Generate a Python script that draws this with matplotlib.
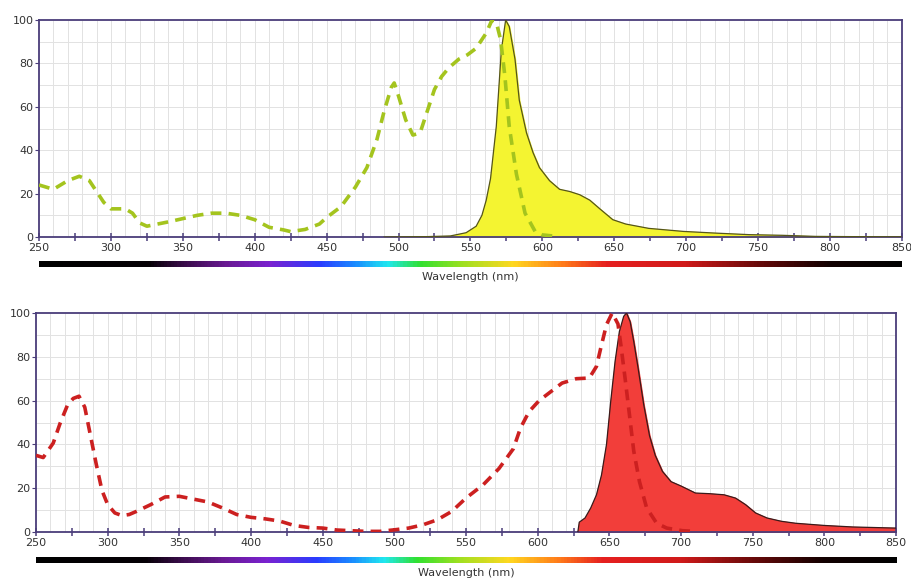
import matplotlib.pyplot as plt
import numpy as np
from matplotlib.colors import LinearSegmentedColormap

# top panel: excitation (dashed) and emission (filled)
top_ex_nm = [250, 260, 270, 278, 285, 290, 295, 300, 310, 315, 320, 325, 340, 350,
             360, 370, 380, 390, 400, 410, 420, 425, 435, 445, 450, 460, 470, 478,
             485, 490, 495, 497, 500, 505, 510, 515, 520, 525, 530, 535, 542, 548,
             554, 561, 565, 568, 571, 574, 577, 582, 588, 595, 600, 610]
top_ex_val = [24, 22, 26, 28, 26, 21, 16, 13, 13, 11, 6.5, 5, 7, 8.5,
              10, 11, 11, 10, 8, 4.5, 3.3, 2.5, 3.5, 6, 9, 14, 23, 32,
              45, 58, 69, 71, 65, 54, 47, 48, 58, 68, 74, 78, 82, 84,
              87, 94, 100, 99, 91, 74, 51, 29, 11, 2.6, 1, 0.3]

top_em_nm = [490, 520, 536, 547, 554, 558, 561, 564, 568, 571.5, 574.5, 577, 581, 584,
             589, 593.5, 598, 605, 612, 619, 626, 633, 640, 649, 658, 674, 698,
             721, 744, 767, 790, 813, 850]
top_em_val = [0, 0.2, 0.5, 2, 5, 10, 17, 27, 51, 86, 100, 97, 82, 63,
              48, 39, 32, 26, 22, 21, 19.5, 17, 13, 8, 6, 4, 2.6,
              1.8, 1.1, 0.8, 0.3, 0.2, 0.1]

# bottom panel
bot_ex_nm = [250, 255, 262, 267, 272, 276, 280, 284, 288, 292, 296, 300, 305, 310,
             315, 320, 330, 340, 350, 360, 370, 380, 390, 400, 410, 420, 430, 440,
             450, 460, 470, 480, 490, 500, 510, 520, 530, 540, 550, 562, 573, 583,
             588, 594, 601, 608, 617, 627, 636, 641, 644, 648, 652, 656, 658, 661,
             664, 667, 671, 676, 683, 690, 701, 710]
bot_ex_val = [35, 34, 40.6, 50, 58, 61, 62, 57, 44, 31, 19, 12.5, 8.7, 7.5,
              8, 9.4, 12.5, 16, 16.3, 15, 13.7, 11, 8, 6.7, 6, 5, 3, 2.1,
              1.8, 0.9, 0.6, 0.3, 0.3, 1, 1.8, 3.3, 5.6, 9.4, 15.5, 21.6, 29, 38,
              47.5, 55, 60, 63.5, 68, 70, 70.3, 75.6, 84, 94.7, 100, 95, 85.5, 70,
              53.6, 37, 23, 11, 4, 1.8, 0.6, 0.3]

bot_em_nm = [628, 629, 633, 637, 641, 644.5, 648, 651, 654, 657, 660, 662, 664.5,
             667, 670, 674, 678, 682, 687, 693, 700, 710, 720, 730, 738, 745, 752,
             760, 770, 780, 800, 820, 850]
bot_em_val = [0, 4.5, 6.4, 11, 17, 26, 40, 60, 78, 91.6, 98.5, 100, 96,
              87, 75, 58, 44, 35, 27.7, 23, 21, 17.8, 17.5, 17, 15.5, 12.5, 8.7,
              6.4, 4.9, 4, 3, 2.3, 1.8]

# spectrum bar colours
bar_nm = [250, 325, 350, 380, 410, 445, 470, 492, 515, 545, 580, 615, 645, 700, 750, 800, 850]
bar_col = ['#000000', '#050005', '#3a0c4a', '#6a1a95', '#7a22d0', '#2a3cff', '#1a8cff',
           '#20e8f0', '#30e030', '#a0e020', '#ffd820', '#ff7a1a', '#e62020', '#d01a1a',
           '#6a0a0a', '#120000', '#000000']

W0, W1 = 250, 850
EDGE = '#4a3d7a'


def spectrum_bar(fig, rect):
    ax = fig.add_axes(rect)
    stops = [(w - W0) / (W1 - W0) for w in bar_nm]
    cmap = LinearSegmentedColormap.from_list('spec', list(zip(stops, bar_col)))
    ax.imshow(np.linspace(0, 1, 600)[None, :], aspect='auto', cmap=cmap,
              extent=[W0, W1, 0, 1])
    ax.set_axis_off()
    return ax


def spectrum_panel(fig, rect, ex_nm, ex_val, em_nm, em_val, ex_color, fill_color, edge_color):
    ax = fig.add_axes(rect)
    ax.set_xlim(W0, W1)
    ax.set_ylim(0, 100)
    # light grid every 10 units
    ax.vlines(range(260, 850, 10), 0, 100, color='#e2e2e2', linewidth=0.7, zorder=0)
    ax.hlines(range(10, 100, 10), W0, W1, color='#e2e2e2', linewidth=0.7, zorder=0)
    ax.fill_between(em_nm, em_val, 0, color=fill_color, zorder=2)
    ax.plot(em_nm, em_val, color=edge_color, linewidth=0.9, zorder=3)
    ax.plot(ex_nm, ex_val, color=ex_color, linewidth=2.6, dashes=(3, 2), zorder=4)
    ax.set_xticks(range(250, 851, 50))
    ax.set_xticks(range(275, 851, 50), minor=True)
    ax.set_yticks(range(0, 101, 20))
    ax.tick_params(axis='x', which='both', direction='inout', length=6, width=1.1,
                   color=EDGE, labelsize=8, labelcolor='#333333', pad=1)
    ax.tick_params(axis='y', which='major', direction='out', length=3, color=EDGE,
                   labelsize=8, labelcolor='#333333', pad=1)
    for s in ax.spines.values():
        s.set_color(EDGE)
        s.set_linewidth(1.3)
    return ax


fig = plt.figure(figsize=(9.12, 5.81), dpi=100)

top = spectrum_panel(fig, [0.0428, 0.592, 0.946, 0.3735], top_ex_nm, top_ex_val,
                     top_em_nm, top_em_val, '#a4c41e', '#f4f431', '#55551a')
spectrum_bar(fig, [0.0428, 0.5404, 0.946, 0.0103])
fig.text(0.516, 0.523, 'Wavelength (nm)', ha='center', va='center', fontsize=8, color='#333333')

bot = spectrum_panel(fig, [0.0395, 0.0843, 0.943, 0.377], bot_ex_nm, bot_ex_val,
                     bot_em_nm, bot_em_val, '#cc2020', '#f23e3a', '#3a1a1a')
spectrum_bar(fig, [0.0395, 0.031, 0.943, 0.0103])
fig.text(0.511, 0.0138, 'Wavelength (nm)', ha='center', va='center', fontsize=8, color='#333333')

fig.savefig('out.png', dpi=100)
